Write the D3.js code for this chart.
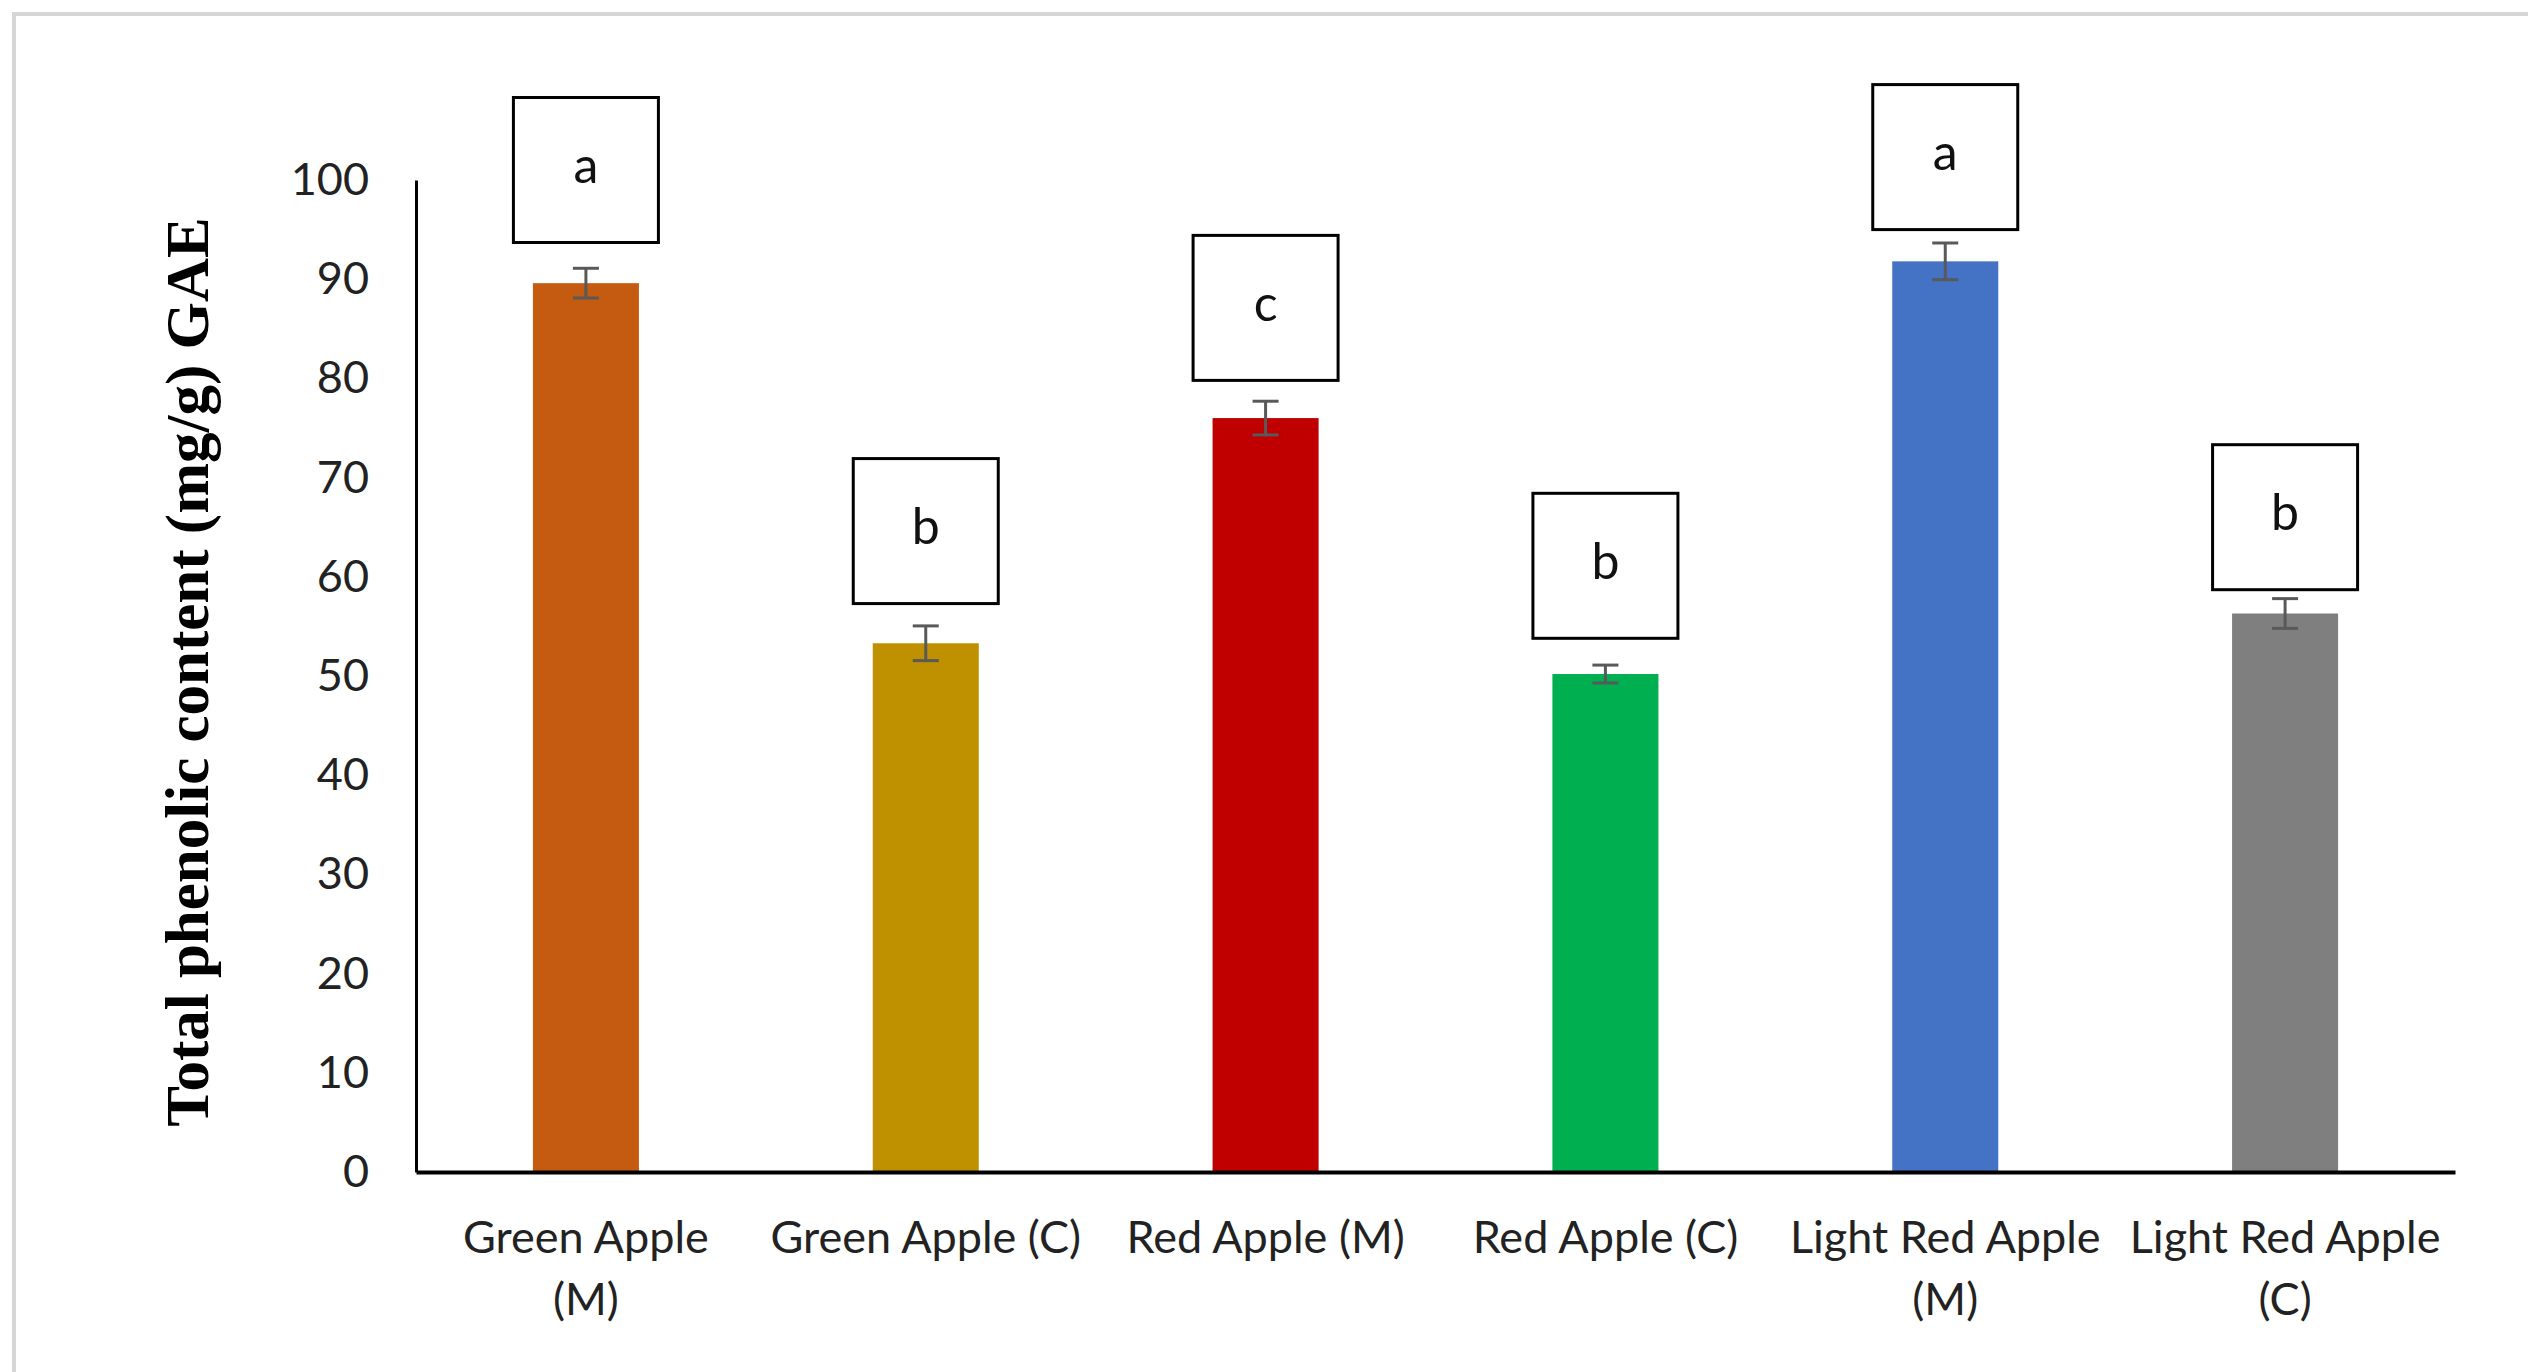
<!DOCTYPE html>
<html>
<head>
<meta charset="utf-8">
<script src="https://cdn.jsdelivr.net/npm/d3@7"></script>
<style>
  html, body { margin: 0; padding: 0; background: #fff; }
  svg { display: block; }
</style>
</head>
<body>
<div id="chart"></div>
<script>
// chart data
var categories = ["Green Apple (M)", "Green Apple (C)", "Red Apple (M)", "Red Apple (C)", "Light Red Apple (M)", "Light Red Apple (C)"];
var tickLines = [["Green Apple", "(M)"], ["Green Apple (C)"], ["Red Apple (M)"], ["Red Apple (C)"], ["Light Red Apple", "(M)"], ["Light Red Apple", "(C)"]];
var means = [89.6, 53.3, 76.0, 50.2, 91.8, 56.3];
var errors = [1.5, 1.75, 1.7, 0.9, 1.85, 1.5];
var letters = ["a", "b", "c", "b", "a", "b"];
var letterBase = [93.7, 57.3, 79.8, 53.8, 95.0, 58.7]; // bottom of each letter box, in data units
var yTicks = [0, 10, 20, 30, 40, 50, 60, 70, 80, 90, 100];
var barColors = ["#C55A11", "#BF9000", "#C00000", "#00B050", "#4472C4", "#7F7F7F"];

var W = 2528, H = 1372;
var plot = { left: 416, right: 2455, bottom: 1172, top: 180 };
var boxSize = 145;

var svg = d3.select("#chart")
    .append("svg")
    .attr("width", W)
    .attr("height", H);

svg.append("rect").attr("width", W).attr("height", H).attr("fill", "#fff");

// light frame round the picture (top and left only are visible)
svg.append("path")
    .attr("d", "M14," + H + " L14,14 L" + W + ",14")
    .attr("fill", "none")
    .attr("stroke", "#d6d6d6")
    .attr("stroke-width", 4);

var xScale = d3.scaleBand()
    .domain(categories)
    .range([plot.left, plot.right])
    .paddingInner(0.688)
    .paddingOuter(0.344);

var yScale = d3.scaleLinear()
    .domain([0, 100])
    .range([plot.bottom, plot.top]);

var rows = categories.map(function(c, i) {
    return { cat: c, mean: means[i], err: errors[i], letter: letters[i], base: letterBase[i], color: barColors[i] };
});

function cx(d) { return xScale(d.cat) + xScale.bandwidth() / 2; }

// bars
svg.selectAll(".bar")
    .data(rows)
    .enter()
    .append("rect")
    .attr("class", "bar")
    .attr("x", function(d) { return xScale(d.cat); })
    .attr("y", function(d) { return yScale(d.mean); })
    .attr("width", xScale.bandwidth())
    .attr("height", function(d) { return plot.bottom - yScale(d.mean); })
    .attr("fill", function(d) { return d.color; });

// error bars
var errG = svg.selectAll(".err")
    .data(rows)
    .enter()
    .append("g")
    .attr("class", "err")
    .attr("stroke", "#595959")
    .attr("stroke-width", 3);

errG.append("line")
    .attr("x1", cx)
    .attr("x2", cx)
    .attr("y1", function(d) { return yScale(d.mean + d.err); })
    .attr("y2", function(d) { return yScale(d.mean - d.err); });

[1, -1].forEach(function(s) {
    errG.append("line")
        .attr("x1", function(d) { return cx(d) - 13; })
        .attr("x2", function(d) { return cx(d) + 13; })
        .attr("y1", function(d) { return yScale(d.mean + s * d.err); })
        .attr("y2", function(d) { return yScale(d.mean + s * d.err); });
});

// y axis
var yAxis = d3.axisLeft(yScale)
    .tickValues(yTicks)
    .tickSize(0)
    .tickPadding(47);

var yG = svg.append("g")
    .attr("transform", "translate(" + plot.left + ",0)")
    .call(yAxis);
yG.select(".domain").attr("stroke", "#000").attr("stroke-width", 3);
yG.selectAll("text")
    .attr("font-family", "Lato, 'Open Sans', sans-serif")
    .attr("font-size", "45px")
    .attr("fill", "#222");

// x axis
var xAxis = d3.axisBottom(xScale).tickSize(0).tickSizeOuter(0);
var xG = svg.append("g")
    .attr("transform", "translate(0," + plot.bottom + ")")
    .call(xAxis);
xG.select(".domain").attr("stroke", "#000").attr("stroke-width", 4);
xG.selectAll("text").each(function(d, i) {
    var t = d3.select(this);
    t.text(null).attr("y", 81).attr("dy", null)
        .attr("font-family", "Lato, 'Open Sans', sans-serif")
        .attr("font-size", "45px")
        .attr("fill", "#222");
    tickLines[i].forEach(function(line, k) {
        t.append("tspan").attr("x", 0).attr("dy", k === 0 ? 0 : 62).text(line);
    });
});

// letter boxes
var boxG = svg.selectAll(".letter")
    .data(rows)
    .enter()
    .append("g")
    .attr("class", "letter")
    .attr("transform", function(d) {
        return "translate(" + (cx(d) - boxSize / 2) + "," + (yScale(d.base) - boxSize) + ")";
    });

boxG.append("rect")
    .attr("width", boxSize)
    .attr("height", boxSize)
    .attr("fill", "#fff")
    .attr("stroke", "#000")
    .attr("stroke-width", 3);

boxG.append("text")
    .attr("x", boxSize / 2)
    .attr("y", boxSize / 2 + 13)
    .attr("text-anchor", "middle")
    .attr("font-family", "Lato, 'Open Sans', sans-serif")
    .attr("font-size", "50px")
    .attr("fill", "#111")
    .text(function(d) { return d.letter; });

// y axis title
svg.append("text")
    .attr("transform", "translate(208,672) rotate(-90)")
    .attr("text-anchor", "middle")
    .attr("font-family", "'Liberation Serif', 'Times New Roman', serif")
    .attr("font-weight", "bold")
    .attr("font-size", "61px")
    .attr("fill", "#000")
    .text("Total phenolic content (mg/g) GAE");
</script>
</body>
</html>
